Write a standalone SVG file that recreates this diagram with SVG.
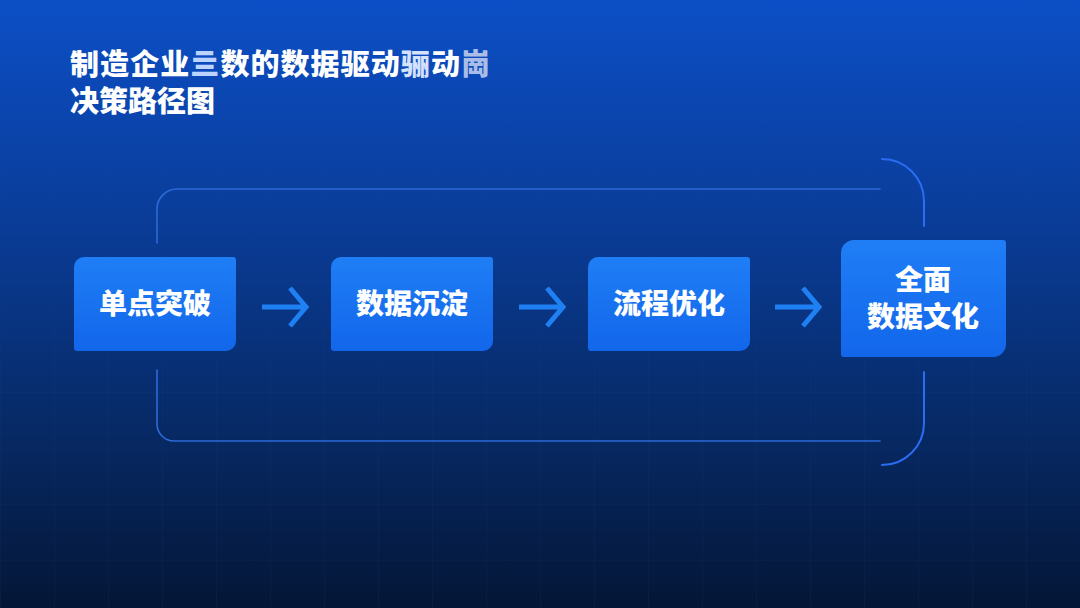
<svg xmlns="http://www.w3.org/2000/svg" width="1080" height="608" viewBox="0 0 1080 608">
<defs>
<linearGradient id="bg" x1="0" y1="0" x2="0" y2="1">
<stop offset="0" stop-color="#0c4fc6"/>
<stop offset="0.35" stop-color="#0a3d9a"/>
<stop offset="0.7" stop-color="#072a66"/>
<stop offset="1" stop-color="#041636"/>
</linearGradient>
<linearGradient id="box" x1="0" y1="0" x2="0" y2="1">
<stop offset="0" stop-color="#1f7ef6"/>
<stop offset="1" stop-color="#1266ea"/>
</linearGradient>
<linearGradient id="fadeMask" x1="0" y1="0" x2="0" y2="1">
<stop offset="0" stop-color="#fff" stop-opacity="0"/>
<stop offset="0.5" stop-color="#fff" stop-opacity="0.5"/>
<stop offset="1" stop-color="#fff" stop-opacity="1"/>
</linearGradient>
<mask id="gm"><rect width="1080" height="608" fill="url(#fadeMask)"/></mask>
<pattern id="grid" width="54" height="56" patternUnits="userSpaceOnUse">
<path d="M0 0.5 H54 M0.5 0 V56" fill="none" stroke="#3a6fc0" stroke-width="1"/>
</pattern>
<style>
.frame{fill:none;stroke:#2c6ad6;stroke-width:1.6;stroke-linecap:round}
.arc{fill:none;stroke:#2a6cf2;stroke-width:2;stroke-linecap:round}
.arrow{fill:none;stroke:#1e80f2;stroke-width:5;stroke-linecap:butt;stroke-linejoin:miter}
.lbl{font-family:"Noto Sans CJK SC","Noto Sans",sans-serif;font-weight:900;font-size:28px;fill:#ffffff;text-anchor:middle}
.title{font-family:"Noto Sans CJK SC","Noto Sans",sans-serif;font-weight:900;font-size:29px;fill:#ffffff}
</style>
</defs>
<rect width="1080" height="608" fill="url(#bg)"/>
<rect width="1080" height="608" fill="url(#grid)" opacity="0.07" mask="url(#gm)"/>

<g id="title">
<text class="title" x="70" y="75" textLength="420">制造企业<tspan fill="#bcd2ff">亖</tspan>数的数据驱动<tspan fill="#d4e2ff">骊</tspan>动<tspan fill="#a9bde8">崗</tspan></text>
<text class="title" x="70" y="112">决策路径图</text>
</g>

<g id="connectors">
<path class="frame" d="M157 243 V209 A20 20 0 0 1 177 189 H880"/>
<path class="arc" d="M882 159 A42 42 0 0 1 924 201 V226"/>
<path class="frame" d="M157 370 V424 A17 17 0 0 0 174 441 H880"/>
<path class="arc" d="M924 372 V423 A42 42 0 0 1 882 465"/>
<path class="arrow" d="M262 307 H304 M290 288 L306 307 L290 326"/>
<path class="arrow" d="M519 307 H561 M547 288 L563 307 L547 326"/>
<path class="arrow" d="M775 307 H817 M803 288 L819 307 L803 326"/>
</g>

<g id="node1">
<path fill="url(#box)" d="M84 257 H233 A3 3 0 0 1 236 260 V341 A10 10 0 0 1 226 351 H77 A3 3 0 0 1 74 348 V267 A10 10 0 0 1 84 257 Z"/>
<text class="lbl" x="155" y="314">单点突破</text>
</g>
<g id="node2">
<path fill="url(#box)" d="M341 257 H490 A3 3 0 0 1 493 260 V341 A10 10 0 0 1 483 351 H334 A3 3 0 0 1 331 348 V267 A10 10 0 0 1 341 257 Z"/>
<text class="lbl" x="412" y="314">数据沉淀</text>
</g>
<g id="node3">
<path fill="url(#box)" d="M598 257 H747 A3 3 0 0 1 750 260 V341 A10 10 0 0 1 740 351 H591 A3 3 0 0 1 588 348 V267 A10 10 0 0 1 598 257 Z"/>
<text class="lbl" x="669" y="314">流程优化</text>
</g>
<g id="node4">
<path fill="url(#box)" d="M854 240 H1003 A3 3 0 0 1 1006 243 V344 A13 13 0 0 1 993 357 H844 A3 3 0 0 1 841 354 V253 A13 13 0 0 1 854 240 Z"/>
<text class="lbl" x="923" y="290">全面</text>
<text class="lbl" x="923" y="327">数据文化</text>
</g>
</svg>
